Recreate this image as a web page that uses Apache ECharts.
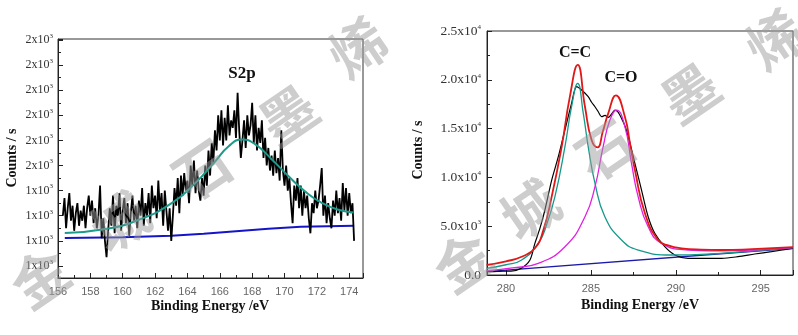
<!DOCTYPE html>
<html><head><meta charset="utf-8">
<script src="https://cdn.jsdelivr.net/npm/echarts@6/dist/echarts.min.js"></script>
<style>html,body{margin:0;padding:0;background:#fff}#c{width:798px;height:335px}</style>
</head><body><div id="c"></div>
<script>
// ---------- S2p panel (left) ----------
const s2pEnergy = [156.3,156.4,156.5,156.6,156.7,156.8,156.9,
157.0,157.1,157.2,157.3,157.4,157.5,157.6,157.7,157.8,157.9,
158.0,158.1,158.2,158.3,158.4,158.5,158.6,158.7,158.8,158.9,
159.0,159.1,159.2,159.3,159.4,159.5,159.6,159.7,159.8,159.9,
160.0,160.1,160.2,160.3,160.4,160.5,160.6,160.7,160.8,160.9,
161.0,161.1,161.2,161.3,161.4,161.5,161.6,161.7,161.8,161.9,
162.0,162.1,162.2,162.3,162.4,162.5,162.6,162.7,162.8,162.9,
163.0,163.1,163.2,163.3,163.4,163.5,163.6,163.7,163.8,163.9,
164.0,164.1,164.2,164.3,164.4,164.5,164.6,164.7,164.8,164.9,
165.0,165.1,165.2,165.3,165.4,165.5,165.6,165.7,165.8,165.9,
166.0,166.1,166.2,166.3,166.4,166.5,166.6,166.7,166.8,166.9,
167.0,167.1,167.2,167.3,167.4,167.5,167.6,167.7,167.8,167.9,
168.0,168.1,168.2,168.3,168.4,168.5,168.6,168.7,168.8,168.9,
169.0,169.1,169.2,169.3,169.4,169.5,169.6,169.7,169.8,169.9,
170.0,170.1,170.2,170.3,170.4,170.5,170.6,170.7,170.8,170.9,
171.0,171.1,171.2,171.3,171.4,171.5,171.6,171.7,171.8,171.9,
172.0,172.1,172.2,172.3,172.4,172.5,172.6,172.7,172.8,172.9,
173.0,173.1,173.2,173.3,173.4,173.5,173.6,173.7,173.8,173.9,
174.0,174.1,174.2,174.3];
const s2pCounts = [1300,1370,1250,1330,1390,1280,1340,
1240,1310,1350,1260,1320,1280,1340,1250,1330,1380,
1300,1360,1270,1330,1250,1300,1420,1210,1290,1200,
1135,1240,1330,1260,1380,1230,1340,1300,1390,1240,
1320,1370,1270,1350,1220,1310,1380,1280,1340,1250,
1360,1300,1410,1260,1350,1300,1390,1270,1420,1330,
1380,1290,1440,1320,1390,1260,1400,1320,1240,1330,
1200,1300,1410,1340,1450,1310,1460,1380,1470,1400,
1440,1350,1500,1420,1520,1390,1480,1400,1360,1450,
1380,1500,1420,1560,1460,1590,1510,1640,1560,1700,
1600,1720,1580,1690,1600,1740,1620,1680,1650,1720,
1610,1790,1640,1530,1600,1680,1570,1700,1620,1660,
1750,1590,1700,1560,1650,1590,1680,1530,1610,1500,
1570,1480,1540,1460,1560,1470,1530,1440,1640,1480,
1420,1500,1400,1450,1350,1270,1420,1360,1450,1330,
1420,1300,1400,1330,1380,1290,1230,1350,1310,1400,
1330,1360,1420,1490,1300,1380,1270,1350,1290,1250,
1360,1300,1400,1310,1370,1280,1430,1320,1410,1300,
1390,1310,1350,1200];
const s2pFitEnergy = [156.42,158.93,161.0,163.05,164.5,165.72,166.55,167.37,168.2,169.22,170.25,171.3,172.3,173.33,174.26];
const s2pFit = [1231,1247,1284,1351,1431,1517,1577,1604,1584,1524,1457,1395,1351,1324,1313];
const s2pBaseEnergy = [156.42,160.0,163.0,165.0,167.0,169.0,171.0,174.3];
const s2pBase = [1211,1214,1220,1228,1238,1248,1256,1260];

// ---------- C1s panel (right) ----------
const c1sDataE = [278.9,279.5,280.3,280.9,281.41,281.7,282.0,282.29,282.69,283.08,283.47,283.86,284.16,284.45,284.84,285.04,285.24,285.44,285.63,285.83,286.02,286.22,286.41,286.6,286.8,287.0,287.2,287.59,287.98,288.37,288.76,289.35,289.94,290.72,291.7,292.69,293.66,294.65,295.63,296.9];
const c1sData = [340,380,400,700,1537,3245,4800,6660,9730,12120,14860,17590,19300,18950,18270,17700,17240,16700,16220,16350,16150,16500,16900,16700,16050,15300,14170,11440,8700,5970,4270,2900,2049,1707,1707,1707,1875,2150,2390,2736];
const c1sEnvE = [278.86,280.0,280.92,281.7,282.2,282.69,283.28,283.76,284.22,284.65,285.04,285.39,285.7,286.02,286.47,287.0,287.3,287.59,288.18,288.96,289.6,290.33,291.5,292.69,294.5,296.9];
const c1sEnv = [1025,1400,1875,2736,4600,8026,13150,18270,21520,17240,13830,13080,14700,16560,18410,16220,13500,10760,6320,3586,3000,2736,2600,2561,2650,2850];
const c1sCCE = [278.86,280.0,280.92,281.9,282.4,282.88,283.47,283.86,284.22,284.55,284.84,285.24,285.82,286.8,287.78,289.75,292.0,294.5,296.9];
const c1sCC = [686,1050,1537,3245,5200,8026,13150,17240,19640,16560,13150,9390,5970,3586,2561,2049,2150,2450,2800];
const c1sCOE = [278.86,280.5,281.9,283.47,284.65,285.24,285.72,286.12,286.51,287.0,287.39,287.78,288.37,289.16,290.72,292.0,293.66,296.9];
const c1sCO = [420,750,1195,2900,5970,9050,13150,15880,16900,15200,11440,8026,4950,3245,2561,2480,2492,2800];
const c1sBaseE = [278.86,296.9];
const c1sBase = [340,2740];

const zip = (a, b) => a.map((v, i) => [v, b[i]]);

const serif = '"Liberation Serif","DejaVu Serif",serif';
const sans = '"Liberation Sans","DejaVu Sans",sans-serif';
const richFor = (fs) => ({
  a: {fontFamily: serif, fontSize: fs, color: '#333'},
  b: {fontFamily: serif, fontSize: 7, color: '#333', padding: [0, 0, 8, 0]}
});

const chart = echarts.init(document.getElementById('c'), null, {renderer: 'canvas'});

const axisLineStyle = {color: '#222', width: 1};
const commonX = (gi, min, max, showMin) => ({
  type: 'value', gridIndex: gi, min, max,
  axisLine: {show: true, onZero: false, lineStyle: axisLineStyle},
  axisTick: {show: true, inside: true, length: 5, lineStyle: {color: '#222'}},
  minorTick: {show: true, splitNumber: 2, length: 3, lineStyle: {color: '#222'}},
  splitLine: {show: false},
  axisLabel: {fontFamily: sans, fontSize: 11, color: '#666', margin: 8, showMinLabel: showMin, showMaxLabel: false,
    formatter: v => (Math.abs(v - Math.round(v)) < 1e-6) ? String(Math.round(v)) : ''}
});

const wm = '金城石墨烯'.split('');
const wmPos = [[40, 278], [120, 222], [202, 170], [288, 115], [358, 48], [463, 262], [530, 210], [605, 150], [690, 93], [775, 40]];
const watermark = wmPos.map((p, i) => ({
  type: 'text', x: p[0], y: p[1], rotation: 0.6, z: 100,
  style: {text: wm[i % 5], fontSize: 56, fontWeight: 'bold', fontFamily: '"Noto Sans CJK SC"', fill: 'rgba(155,155,155,0.5)', align: 'center', verticalAlign: 'middle'}
}));

chart.setOption({
  animation: false,
  grid: [
    {left: 58, top: 39, width: 305, height: 239, show: true, borderColor: '#333', borderWidth: 1, backgroundColor: '#fff'},
    {left: 487, top: 31, width: 306, height: 244, show: true, borderColor: '#333', borderWidth: 1, backgroundColor: '#fff'}
  ],
  xAxis: [
    Object.assign(commonX(0, 156, 174.85, true), {interval: 2}),
    Object.assign(commonX(1, 278.88, 296.9, false), {minInterval: 5, maxInterval: 5, splitNumber: 4})
  ],
  yAxis: [
    {type: 'value', gridIndex: 0, min: 1052, max: 2004, minInterval: 100, maxInterval: 100, splitNumber: 9,
     axisLine: {show: true, lineStyle: axisLineStyle},
     axisTick: {show: true, inside: true, length: 5, lineStyle: {color: '#222'}},
     minorTick: {show: true, splitNumber: 2, length: 3, lineStyle: {color: '#222'}},
     splitLine: {show: false},
     axisLabel: {margin: 5, showMinLabel: false, showMaxLabel: false, rich: richFor(12),
       formatter: v => (Math.abs(v / 100 - Math.round(v / 100)) < 1e-6) ? '{a|' + Math.round(v / 1000) + 'x10}{b|3}' : ''}},
    {type: 'value', gridIndex: 1, min: 0, max: 25000, interval: 5000,
     axisLine: {show: true, lineStyle: axisLineStyle},
     axisTick: {show: true, inside: true, length: 5, lineStyle: {color: '#222'}},
     minorTick: {show: true, splitNumber: 2, length: 3, lineStyle: {color: '#222'}},
     splitLine: {show: false},
     axisLabel: {margin: 6, rich: richFor(13.5),
       formatter: v => v === 0 ? '{a|0.0}' : (v < 10000 ? '{a|' + (v / 1000).toFixed(1) + 'x10}{b|3}' : '{a|' + (v / 10000).toFixed(1) + 'x10}{b|4}')}}
  ],
  series: [
    {type: 'line', xAxisIndex: 0, yAxisIndex: 0, data: zip(s2pBaseEnergy, s2pBase), showSymbol: false, lineStyle: {color: '#1515c8', width: 2}},
    {type: 'line', xAxisIndex: 0, yAxisIndex: 0, data: zip(s2pEnergy, s2pCounts), showSymbol: false, lineStyle: {color: '#000', width: 1.8}},
    {type: 'line', xAxisIndex: 0, yAxisIndex: 0, data: zip(s2pFitEnergy, s2pFit), showSymbol: false, smooth: true, lineStyle: {color: '#1c9a8c', width: 2}},
    {type: 'line', xAxisIndex: 1, yAxisIndex: 1, data: zip(c1sBaseE, c1sBase), showSymbol: false, lineStyle: {color: '#1a1aa8', width: 1.3}},
    {type: 'line', xAxisIndex: 1, yAxisIndex: 1, data: zip(c1sDataE, c1sData), showSymbol: false, smooth: 0.3, lineStyle: {color: '#000', width: 1.2}},
    {type: 'line', xAxisIndex: 1, yAxisIndex: 1, data: zip(c1sCCE, c1sCC), showSymbol: false, smooth: true, lineStyle: {color: '#15998c', width: 1.3}},
    {type: 'line', xAxisIndex: 1, yAxisIndex: 1, data: zip(c1sCOE, c1sCO), showSymbol: false, smooth: true, lineStyle: {color: '#e020e0', width: 1.3}},
    {type: 'line', xAxisIndex: 1, yAxisIndex: 1, data: zip(c1sEnvE, c1sEnv), showSymbol: false, smooth: true, lineStyle: {color: '#e01818', width: 1.8}}
  ],
  graphic: [
    {type: 'text', x: 12, y: 158, rotation: Math.PI / 2, z: 50, style: {text: 'Counts / s', fontFamily: serif, fontSize: 14, fontWeight: 'bold', fill: '#111', align: 'center', verticalAlign: 'middle'}},
    {type: 'text', x: 418, y: 150, rotation: Math.PI / 2, z: 50, style: {text: 'Counts / s', fontFamily: serif, fontSize: 14, fontWeight: 'bold', fill: '#111', align: 'center', verticalAlign: 'middle'}},
    {type: 'text', x: 210, y: 306, z: 50, style: {text: 'Binding Energy /eV', fontFamily: serif, fontSize: 14, fontWeight: 'bold', fill: '#111', align: 'center', verticalAlign: 'middle'}},
    {type: 'text', x: 640, y: 305, z: 50, style: {text: 'Binding Energy /eV', fontFamily: serif, fontSize: 14, fontWeight: 'bold', fill: '#111', align: 'center', verticalAlign: 'middle'}},
    {type: 'text', x: 242, y: 74, z: 50, style: {text: 'S2p', fontFamily: serif, fontSize: 17, fontWeight: 'bold', fill: '#111', align: 'center', verticalAlign: 'middle'}},
    {type: 'text', x: 575, y: 53, z: 50, style: {text: 'C=C', fontFamily: serif, fontSize: 16, fontWeight: 'bold', fill: '#111', align: 'center', verticalAlign: 'middle'}},
    {type: 'text', x: 621, y: 78, z: 50, style: {text: 'C=O', fontFamily: serif, fontSize: 16, fontWeight: 'bold', fill: '#111', align: 'center', verticalAlign: 'middle'}}
  ].concat(watermark)
});
</script>
</body></html>
